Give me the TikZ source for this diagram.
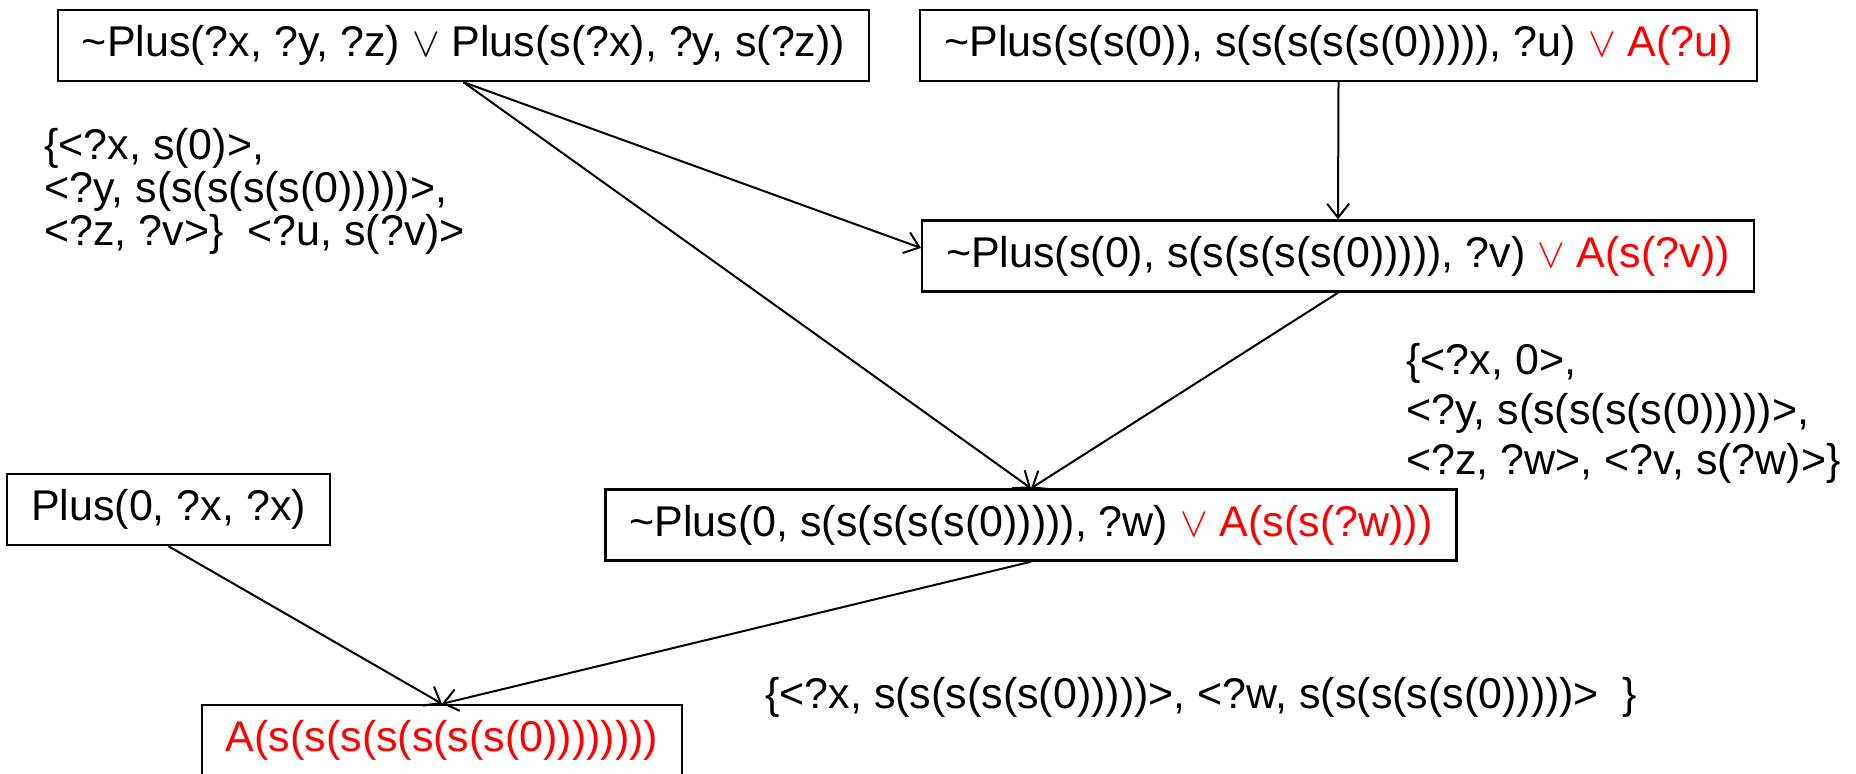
\documentclass[tikz,border=0pt]{standalone}
\usepackage{fontspec}
\setmainfont{Liberation Sans}
\usetikzlibrary{arrows.meta}
\newcommand{\tld}{\textasciitilde}
\newcommand{\orsym}{$\vee$}
\newcommand{\hl}[1]{\textcolor{red}{#1}}

\begin{document}
\begin{tikzpicture}[x=0.5pt, y=-0.5pt,
  clause/.style={draw, line width=1.2pt, inner xsep=12pt, inner ysep=0pt,
    minimum height=35.5pt, font=\fontsize{21.5}{25}\selectfont},
  subst/.style={anchor=west, inner sep=0pt, align=left,
    font=\fontsize{21.5}{21.5}\selectfont},
  >={Straight Barb[length=7pt, width=11pt]}]
  \useasboundingbox (0,0) rectangle (1856,773);
  % clauses
  \node[clause] (ax) at (463.5,45.5) {\tld Plus(?x, ?y, ?z) \orsym{} Plus(s(?x), ?y, s(?z))};
  \node[clause] (goal) at (1338.5,45.5) {\tld Plus(s(s(0)), s(s(s(s(s(0))))), ?u) \hl{\orsym{} A(?u)}};
  \node[clause] (res1) at (1338,256) {\tld Plus(s(0), s(s(s(s(s(0))))), ?v) \hl{\orsym{} A(s(?v))}};
  \node[clause] (res2) at (1031,525) {\tld Plus(0, s(s(s(s(s(0))))), ?w) \hl{\orsym{} A(s(s(?w)))}};
  \node[clause] (base) at (168.5,509.5) {Plus(0, ?x, ?x)};
  \node[clause] (ans) at (442,740.5) {\hl{A(s(s(s(s(s(s(s(0))))))))}};
  % unifiers
  \node[subst] (u1) at (44,191) {\{<?x, s(0)>,\\<?y, s(s(s(s(s(0)))))>,\\<?z, ?v>\}\ \ <?u, s(?v)>};
  \node[subst, font=\fontsize{21.5}{25}\selectfont] (u2) at (1406,413) {\{<?x, 0>,\\<?y, s(s(s(s(s(0)))))>,\\<?z, ?w>, <?v, s(?w)>\}};
  \node[subst] (u3) at (765,697) {\{<?x, s(s(s(s(s(0)))))>, <?w, s(s(s(s(s(0)))))>\ \ \}};
  % resolution steps
  \draw[->, line width=1pt] (ax.south) -- ([yshift=4pt]res1.west);
  \draw[->, line width=1pt] (ax.south) -- (res2.north);
  \draw[->, line width=1pt] (goal.south) -- (res1.north);
  \draw[->, line width=1pt] (res1.south) -- (res2.north);
  \draw[->, line width=1pt] (base.south) -- (ans.north);
  \draw[->, line width=1pt] (res2.south) -- (ans.north);
\end{tikzpicture}
\end{document}
